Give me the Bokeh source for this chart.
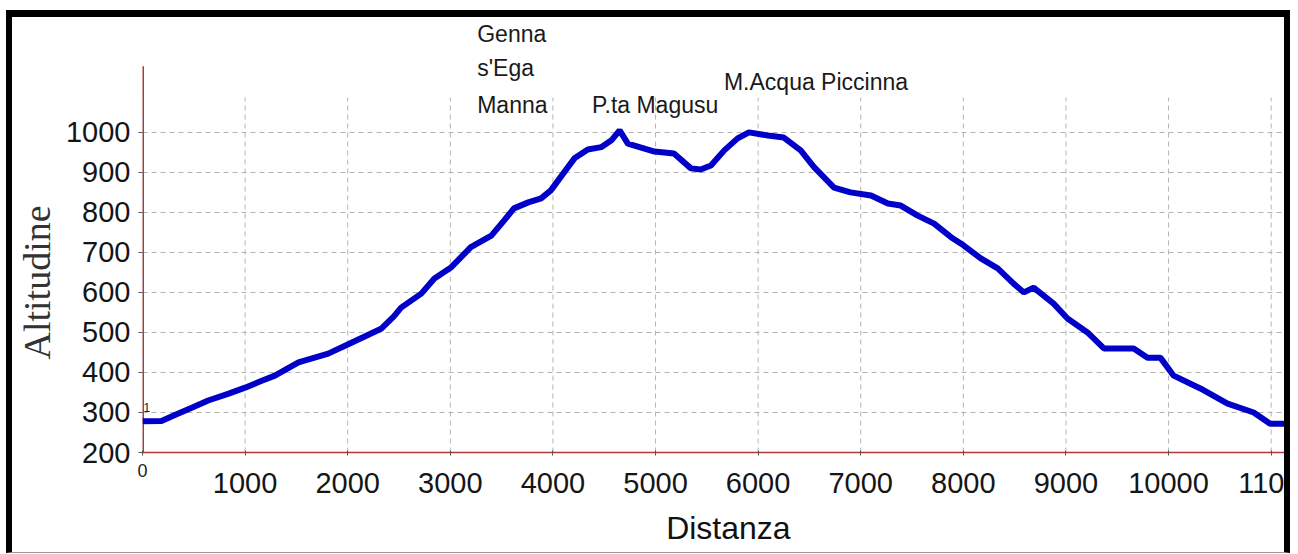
from bokeh.plotting import figure
from bokeh.models import Range1d, FixedTicker, Label, LinearAxis
from bokeh.embed import file_html
from bokeh.resources import INLINE

# ---- data ----
DIST = [0, 185, 310, 480, 640, 840, 1000, 1150, 1290, 1520, 1810, 2000, 2150,
        2330, 2450, 2520, 2717, 2845, 3010, 3105, 3200, 3400, 3525, 3620, 3760,
        3885, 3980, 4080, 4210, 4340, 4470, 4570, 4650, 4730, 4860, 4990, 5180,
        5345, 5440, 5540, 5670, 5800, 5910, 6095, 6250, 6415, 6545, 6740, 6900,
        7100, 7265, 7390, 7555, 7715, 7880, 8005, 8170, 8335, 8490, 8590, 8685,
        8880, 9015, 9210, 9370, 9500, 9660, 9795, 9920, 10050, 10310, 10575,
        10830, 10990, 11150]
ALT = [278, 279, 293, 312, 330, 347, 362, 378, 392, 425, 447, 470, 488,
       510, 540, 562, 597, 635, 663, 688, 713, 742, 780, 810, 825,
       835, 855, 890, 935, 957, 963, 980, 1005, 972, 962, 952, 947,
       910, 907, 917, 955, 985, 1000, 992, 987, 955, 913, 862, 850,
       842, 822, 817, 792, 772, 738, 717, 685, 660, 622, 600, 612,
       572, 535, 500, 460, 460, 460, 437, 437, 392, 360, 322,
       300, 272, 272]

X_TICKS = [0, 1000, 2000, 3000, 4000, 5000, 6000, 7000, 8000, 9000, 10000, 11000]
# tick labels as they are visible in the reference (the last one is cut by the border)
X_TICK_LABELS = ["", "1000", "2000", "3000", "4000", "5000", "6000", "7000",
                 "8000", "9000", "10000", "110"]
Y_TICKS = [200, 300, 400, 500, 600, 700, 800, 900, 1000]

PEAK_NAMES = ["Genna", "s'Ega", "Manna", "P.ta Magusu", "M.Acqua Piccinna"]
PEAK_X = [3262, 3262, 3262, 4382, 5667]
PEAK_Y = [1246, 1160, 1069, 1069, 1126]

X_LABEL = "Distanza"
Y_LABEL = "Altitudine"

# layout constants (the frame runs on under the right border, as in the reference)
X_MAX = 11247
Y_MIN, Y_MAX = 200, 1287
Y_AXIS_TOP = 1165      # top end of the drawn y axis line
GRID_TOP = 1087        # top end of the vertical grid lines
NBSP = "\u00a0"

AXIS_COLOR = "#b03a3a"
GRID_COLOR = "#b4b4b4"
LINE_COLOR = "#0000c8"
TICK_COLOR = "#555555"
FONT = "Liberation Sans"

p = figure(width=1272, height=535,
           x_range=Range1d(0, X_MAX), y_range=Range1d(Y_MIN, Y_MAX),
           output_backend="svg", toolbar_location=None,
           min_border_left=130, min_border_right=0,
           min_border_top=0, min_border_bottom=108)
p.styles = {"box-sizing": "content-box",
            "margin-left": "6px", "margin-top": "10px",
            "border-top": "7px solid black", "border-left": "6px solid black",
            "border-right": "6px solid black", "border-bottom": "1px solid #9a9a9a"}
p.outline_line_color = None
p.background_fill_color = "white"
p.border_fill_color = "white"

# ---- y axis (its line is drawn as a segment so it stops at the reference height)
ya = p.yaxis[0]
ya.ticker = FixedTicker(ticks=Y_TICKS)
ya.axis_line_color = None
ya.major_tick_line_color = TICK_COLOR
ya.minor_tick_line_color = None
ya.major_tick_in = 0
ya.major_tick_out = 4
ya.major_label_standoff = 8
ya.major_label_text_font = FONT
ya.major_label_text_font_size = "29px"
ya.major_label_text_color = "#151515"
ya.axis_label = Y_LABEL + NBSP * 10
ya.axis_label_standoff = 5
ya.axis_label_text_font = "Liberation Serif"
ya.axis_label_text_font_size = "38px"
ya.axis_label_text_font_style = "normal"
ya.axis_label_text_color = "#333333"

p.segment(x0=[X_TICKS[0]], y0=[Y_MIN], x1=[X_TICKS[0]], y1=[Y_AXIS_TOP],
          line_color=AXIS_COLOR, line_width=3)

# ---- x axis: inner axis with line, ticks and the small "0"
xa = p.xaxis[0]
xa.ticker = FixedTicker(ticks=X_TICKS)
xa.axis_line_color = AXIS_COLOR
xa.axis_line_width = 1.5
xa.major_tick_line_color = TICK_COLOR
xa.minor_tick_line_color = None
xa.major_tick_in = 2
xa.major_tick_out = 3
xa.major_label_overrides = {t: ("0" if t == 0 else "") for t in X_TICKS}
xa.major_label_standoff = 8
xa.major_label_text_font = FONT
xa.major_label_text_font_size = "18px"
xa.major_label_text_color = "#222222"

# outer axis: big tick labels and the title
xb = LinearAxis(ticker=FixedTicker(ticks=X_TICKS),
                axis_line_color=None, major_tick_line_color=None,
                minor_tick_line_color=None, major_tick_in=0, major_tick_out=0,
                major_label_overrides=dict(zip(X_TICKS, X_TICK_LABELS)),
                major_label_standoff=-7,
                major_label_text_font=FONT, major_label_text_font_size="29px",
                major_label_text_color="#151515",
                axis_label=NBSP * 2 + X_LABEL, axis_label_standoff=14,
                axis_label_text_font=FONT, axis_label_text_font_size="32px",
                axis_label_text_font_style="normal",
                axis_label_text_color="#111111")
p.add_layout(xb, "below")

# ---- grids
p.xgrid.visible = False
p.segment(x0=X_TICKS, y0=[Y_MIN] * len(X_TICKS), x1=X_TICKS,
          y1=[GRID_TOP] * len(X_TICKS), line_color=GRID_COLOR,
          line_dash="5 4", line_width=1)
p.ygrid.ticker = FixedTicker(ticks=Y_TICKS)
p.ygrid.grid_line_color = GRID_COLOR
p.ygrid.grid_line_dash = "5 4"
p.ygrid.grid_line_width = 1

# ---- profile
p.line(DIST, ALT, line_color=LINE_COLOR, line_width=6)

# stray small "1" next to the axis
p.add_layout(Label(x=X_TICKS[0], y=Y_TICKS[1], text="1", x_offset=1, y_offset=5,
                   text_align="left", text_baseline="middle",
                   text_font=FONT, text_font_size="12px", text_color="#222222"))

# ---- place names
for name, px, py in zip(PEAK_NAMES, PEAK_X, PEAK_Y):
    p.add_layout(Label(x=px, y=py, text=name, text_align="left",
                       text_baseline="middle", text_font=FONT,
                       text_font_size="23px", text_color="#1a1a1a"))

open("out.html", "w").write(file_html(p, INLINE))
